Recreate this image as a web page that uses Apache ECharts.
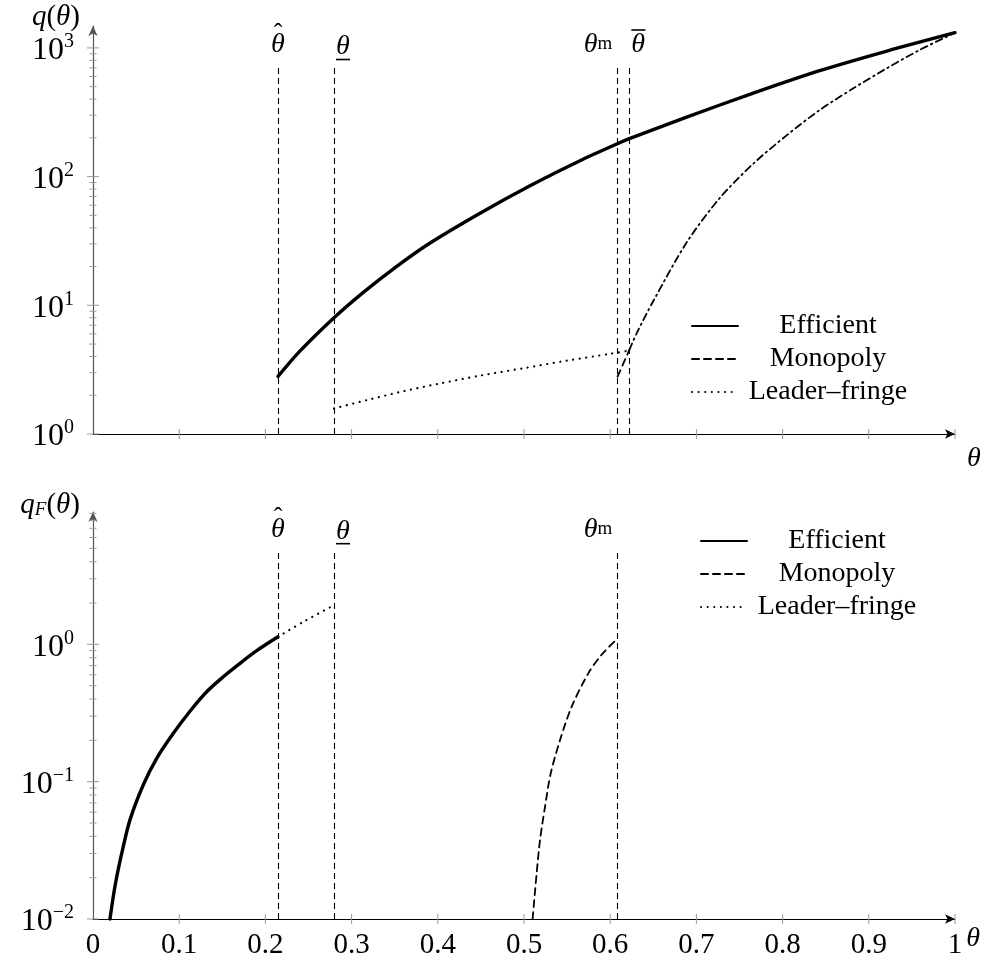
<!DOCTYPE html>
<html><head><meta charset="utf-8">
<script src="https://cdn.jsdelivr.net/npm/echarts@6/dist/echarts.min.js"></script>
<style>html,body{margin:0;padding:0;background:#fff}#c{width:986px;height:966px}</style>
</head><body><div id="c"></div>
<script>
const FONT = '"Liberation Serif", "DejaVu Serif", serif';

// ---------- data ----------
const xTicks = [0, 0.1, 0.2, 0.3, 0.4, 0.5, 0.6, 0.7, 0.8, 0.9, 1];
const topYMajor = [1, 10, 100, 1000];
const topYMinor = [2,3,4,5,6,7,8,9, 20,30,40,50,60,70,80,90, 200,300,400,500,600,700,800,900];
const botYMajor = [0.01, 0.1, 1];
const botYMinor = [0.02,0.03,0.04,0.05,0.06,0.07,0.08,0.09, 0.2,0.3,0.4,0.5,0.6,0.7,0.8,0.9, 2,3,4,5,6,7,8,9];

// top panel q(theta)
const effTop = [[0.2146,2.8],[0.24,4.4],[0.2796,8.0],[0.3136,12.6],[0.352,20],[0.391,30.5],[0.449,52],[0.507,85],[0.565,133],[0.6083,180],[0.6222,197],[0.6887,290],[0.766,445],[0.843,665],[0.921,945],[1.0,1313]];
const monoTopDashed = [[0.6085,2.79],[0.615,3.5],[0.6222,4.5]];
const monoTopDashDot = [[0.6222,4.5],[0.6307,6.06],[0.650,10.8],[0.689,31],[0.727,68],[0.766,126],[0.805,210],[0.843,329],[0.882,485],[0.921,695],[0.959,964],[1.0,1313]];
const lfTop = [[0.2796,1.58],[0.32,1.85],[0.36,2.15],[0.40,2.45],[0.45,2.85],[0.50,3.25],[0.55,3.72],[0.60,4.2],[0.6222,4.45]];

// bottom panel q_F(theta)
const effBot = [[0.0197,0.010],[0.0255,0.0173],[0.0333,0.030],[0.0429,0.0527],[0.0584,0.095],[0.0739,0.148],[0.0932,0.225],[0.1125,0.326],[0.1319,0.452],[0.1512,0.581],[0.1705,0.727],[0.1899,0.899],[0.2146,1.135]];
const monoBot = [[0.5100,0.010],[0.5147,0.0216],[0.5186,0.0377],[0.5244,0.0659],[0.531,0.115],[0.5418,0.201],[0.5553,0.352],[0.5746,0.615],[0.59,0.84],[0.6083,1.10]];
const lfBot = [[0.2146,1.135],[0.245,1.47],[0.2796,1.93]];

// threshold markers
const guideTopX = [0.2146, 0.2796, 0.6083, 0.6222];
const guideTopKind = ['hat', 'under', 'm', 'bar'];
const guideTopRange = [1, 698];
const guideBotX = [0.2146, 0.2796, 0.6083];
const guideBotKind = ['hat', 'under', 'm'];
const guideBotRange = [0.01, 4.69];

const topYRange = [1, 1480];
const botYRange = [0.01, 9.2];

// ---------- helpers ----------
const thetaRich = {
  t: {fontFamily: FONT, fontStyle: 'italic', fontSize: 28, color: '#000', lineHeight: 20},
  tu: {fontFamily: FONT, fontStyle: 'italic', fontSize: 28, color: '#000', lineHeight: 22},
  acc: {fontFamily: FONT, fontSize: 26, color: '#000', lineHeight: 2, align: 'center'},
  bar: {width: 14, height: 1.6, lineHeight: 3, backgroundColor: '#000', fontSize: 1},
  bart: {width: 14, height: 1.6, lineHeight: 8, backgroundColor: '#000', fontSize: 1},
  m: {fontFamily: FONT, fontSize: 19, color: '#000', verticalAlign: 'top', lineHeight: 8}
};
function guideLabel(kind) {
  if (kind === 'hat') return {formatter: '{acc|ˆ}\n{t|θ}', align: 'center', distance: 13};
  if (kind === 'bar') return {formatter: '{bart| }\n{tu|θ}', align: 'left', padding: [0, 0, 0, 2], distance: 12};
  if (kind === 'under') return {formatter: '{tu|θ}\n{bar| }', align: 'left', padding: [0, 0, 0, 2], distance: 7};
  return {formatter: '{t|θ}{m|m}', align: 'right', padding: [0, 5, 0, 0], distance: 13};
}
function guides(xs, kinds, range) {
  return xs.map((x, i) => {
    const l = guideLabel(kinds[i]);
    return [{coord: [x, range[0]], label: Object.assign({show: true, position: 'end', rich: thetaRich}, l)},
            {coord: [x, range[1]]}];
  });
}
function yTickSeries(idx, vals, len) {
  return {
    type: 'custom', name: 'yt' + idx + len, xAxisIndex: idx, yAxisIndex: idx, silent: true, z: 1,
    data: vals.map(v => [0, v]),
    renderItem: function (params, api) {
      const p = api.coord([api.value(0), api.value(1)]);
      return {type: 'line', shape: {x1: p[0] - len, y1: p[1], x2: p[0] + len, y2: p[1]},
              style: {stroke: '#999', lineWidth: 1}};
    }
  };
}
function xTickSeries(idx, ymin) {
  return {
    type: 'custom', name: 'xt' + idx, xAxisIndex: idx, yAxisIndex: idx, silent: true, z: 1,
    data: xTicks.slice(1).map(v => [v, ymin]),
    renderItem: function (params, api) {
      const p = api.coord([api.value(0), api.value(1)]);
      return {type: 'line', shape: {x1: p[0], y1: p[1] - 5, x2: p[0], y2: p[1] + 5},
              style: {stroke: '#999', lineWidth: 1}};
    }
  };
}
const yLabelRich = {
  b: {fontFamily: FONT, fontSize: 32, color: '#000', lineHeight: 38},
  s: {fontFamily: FONT, fontSize: 20, color: '#000', verticalAlign: 'top', lineHeight: 22}
};
function yFmt(v) {
  const l = Math.log10(v), e = Math.round(l);
  if (Math.abs(l - e) > 1e-6) return '';
  return '{b|10}{s|' + (e < 0 ? '\u2212' + (-e) : e) + '}';
}
function yAxisOpt(idx, range, nameRich, nameGap) {
  return {
    gridIndex: idx, type: 'log', logBase: 10, min: range[0], max: range[1],
    axisLine: {show: true, lineStyle: {color: '#555', width: 1.2}, symbol: ['none', 'arrow'], symbolSize: [7, 10]},
    axisTick: {show: false}, minorTick: {show: false}, splitLine: {show: false},
    axisLabel: {formatter: yFmt, rich: yLabelRich, margin: 19, showMaxLabel: false, padding: [6, 0, 0, 0]},
    name: nameRich, nameLocation: 'end', nameGap: nameGap,
    nameTextStyle: {align: 'right', verticalAlign: 'middle', padding: [0, 13, 0, 0],
      rich: {
        i: {fontFamily: FONT, fontStyle: 'italic', fontSize: 29, color: '#000'},
        n: {fontFamily: FONT, fontSize: 29, color: '#000'},
        sub: {fontFamily: FONT, fontStyle: 'italic', fontSize: 19, color: '#000', verticalAlign: 'bottom', lineHeight: 20}
      }}
  };
}
function xAxisOpt(idx, showLabels, nameGap, namePad) {
  return {
    gridIndex: idx, type: 'value', min: 0, max: 1, interval: 0.1,
    axisLine: {show: true, onZero: false, lineStyle: {color: '#000', width: 1.2}, symbol: ['none', 'arrow'], symbolSize: [7, 10]},
    axisTick: {show: false}, splitLine: {show: false},
    axisLabel: {show: showLabels, margin: 12, fontFamily: FONT, fontSize: 29, color: '#000',
      formatter: v => Math.abs(v) < 1e-9 ? '0' : (Math.abs(v - 1) < 1e-9 ? '1' : v.toFixed(1))},
    name: 'θ', nameLocation: 'end', nameGap: nameGap,
    nameTextStyle: {fontFamily: FONT, fontStyle: 'italic', fontSize: 28, color: '#000', align: 'left', verticalAlign: 'top', padding: [namePad, 0, 0, 0]}
  };
}
function lineSeries(name, idx, data, width, type, extra) {
  return Object.assign({
    type: 'line', name: name, xAxisIndex: idx, yAxisIndex: idx, data: data, showSymbol: false, symbol: 'none',
    smooth: 0.3, animation: false, clip: false, z: 3,
    lineStyle: {color: '#000', width: width, type: type, cap: 'round'}, itemStyle: {color: '#000'}
  }, extra || {});
}
function markLineOf(xs, kinds, range) {
  return {silent: true, symbol: ['none', 'none'], animation: false,
    lineStyle: {color: '#000', width: 1.1, type: [6, 4]},
    emphasis: {disabled: true}, data: guides(xs, kinds, range)};
}
const legendNames = ['Efficient', 'Monopoly', 'Leader–fringe'];
function legendOpt(idx, left, top) {
  return {
    data: legendNames, orient: 'vertical', left: left, top: top, itemWidth: 46, itemHeight: 14, itemGap: 5,
    padding: 0, selectedMode: false, itemStyle: {opacity: 0, borderWidth: 0},
    formatter: n => '{a|' + n + '}',
    textStyle: {rich: {a: {width: 170, align: 'center', fontFamily: FONT, fontSize: 28, color: '#000', lineHeight: 30}}}
  };
}

const chart = echarts.init(document.getElementById('c'));
chart.setOption({
  backgroundColor: '#fff',
  animation: false,
  grid: [
    {left: 93, right: 31, top: 26, height: 408},
    {left: 93, right: 31, top: 512, height: 407}
  ],
  xAxis: [xAxisOpt(0, false, 12, 11), xAxisOpt(1, true, 8, 6)],
  yAxis: [
    yAxisOpt(0, topYRange, '{i|q}{n|(}{i|θ}{n|)}', 2),
    yAxisOpt(1, botYRange, '{i|q}{sub|F}{n|(}{i|θ}{n|)}', 7)
  ],
  legend: [legendOpt(0, 691, 312), legendOpt(1, 700, 527)],
  series: [
    lineSeries('Monopoly', 0, monoTopDashed, 1.8, [7, 5]),
    lineSeries('Efficient', 0, effTop, 3.4, 'solid', {markLine: markLineOf(guideTopX, guideTopKind, guideTopRange)}),
    lineSeries('Leader–fringe', 0, lfTop, 2.2, [0.1, 6.5]),
    lineSeries('Monopoly dash-dot', 0, monoTopDashDot, 1.8, [7, 4, 1.5, 4]),
    lineSeries('Efficient', 1, effBot, 3.4, 'solid', {markLine: markLineOf(guideBotX, guideBotKind, guideBotRange)}),
    lineSeries('Monopoly', 1, monoBot, 1.8, [7, 5]),
    lineSeries('Leader–fringe', 1, lfBot, 2.2, [0.1, 6.5]),
    yTickSeries(0, topYMajor, 6), yTickSeries(0, topYMinor, 3.5),
    yTickSeries(1, botYMajor, 6), yTickSeries(1, botYMinor, 3.5),
    xTickSeries(0, topYRange[0]), xTickSeries(1, botYRange[0])
  ]
});
</script></body></html>
